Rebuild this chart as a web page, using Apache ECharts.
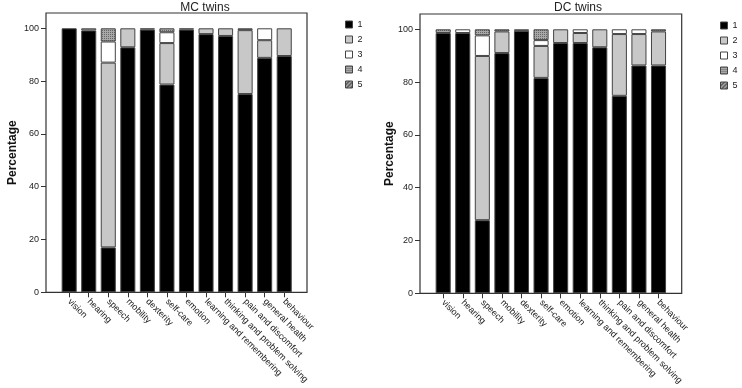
<!DOCTYPE html>
<html>
<head>
<meta charset="utf-8">
<script src="https://cdn.jsdelivr.net/npm/echarts@6/dist/echarts.min.js"></script>
<style>
  html, body { margin: 0; padding: 0; background: #fff; }
  #chart { width: 742px; height: 388px; }
</style>
</head>
<body>
<div id="chart"></div>
<script>
const categories = ["vision", "hearing", "speech", "mobility", "dexterity", "self-care", "emotion",
  "learning and remembering", "thinking and problem solving", "pain and discomfort", "general health", "behaviour"];
const levels = ["1", "2", "3", "4", "5"];

// MC twins, percentage per response level
const mc1 = [100, 99.2, 17, 92.8, 99.5, 78.7, 99.5, 97.8, 97.1, 75.1, 88.8, 89.5];
const mc2 = [0, 0.8, 70, 7.2, 0.5, 15.7, 0.5, 2.2, 2.9, 24.2, 6.7, 10.5];
const mc3 = [0, 0, 8, 0, 0, 4.1, 0, 0, 0, 0, 4.5, 0];
const mc4 = [0, 0, 5, 0, 0, 1.5, 0, 0, 0, 0.7, 0, 0];
const mc5 = [0, 0, 0, 0, 0, 0, 0, 0, 0, 0, 0, 0];

// DC twins
const dc1 = [98.6, 98.6, 27.7, 91, 99.4, 81.6, 94.8, 94.8, 93.2, 74.8, 86.3, 86.3];
const dc2 = [0, 0, 62.2, 8.2, 0.6, 12.1, 5.2, 3.8, 6.8, 23.4, 11.9, 12.9];
const dc3 = [0, 1.4, 7.8, 0, 0, 2.2, 0, 1.4, 0, 1.8, 1.8, 0];
const dc4 = [1.4, 0, 2.3, 0.8, 0, 4.1, 0, 0, 0, 0, 0, 0.8];
const dc5 = [0, 0, 0, 0, 0, 0, 0, 0, 0, 0, 0, 0];

const font = "Liberation Sans, Arial, sans-serif";

function pattern(kind) {
  const c = document.createElement("canvas");
  c.width = 4; c.height = 4;
  const ctx = c.getContext("2d");
  if (kind === "dots") {
    ctx.fillStyle = "#a8a8a8";
    ctx.fillRect(0, 0, 4, 4);
    ctx.fillStyle = "#666";
    ctx.fillRect(0, 0, 1, 1); ctx.fillRect(2, 2, 1, 1);
    ctx.fillRect(2, 0, 1, 1); ctx.fillRect(0, 2, 1, 1);
  } else {
    ctx.fillStyle = "#9a9a9a";
    ctx.fillRect(0, 0, 4, 4);
    ctx.fillStyle = "#333";
    for (let i = 0; i < 4; i++) ctx.fillRect(3 - i, i, 1, 1);
  }
  return { image: c, repeat: "repeat" };
}

const levelColors = ["#000", "#c8c8c8", "#fff", pattern("dots"), pattern("hatch")];

function makeSeries(sets, axis) {
  return sets.map((vals, i) => ({
    name: levels[i],
    type: "bar",
    stack: "s" + axis,
    xAxisIndex: axis,
    yAxisIndex: axis,
    barCategoryGap: "23%",
    data: vals.map(v => (v > 0 ? v : null)),
    itemStyle: { color: levelColors[i], borderColor: "#444", borderWidth: 1 },
    emphasis: { disabled: true },
  }));
}

function dataAxes(gridIndex) {
  return {
    x: {
      type: "category",
      gridIndex: gridIndex,
      data: categories,
      axisLine: { show: false },
      axisTick: { show: true, alignWithLabel: true, length: 5, lineStyle: { color: "#333" } },
      axisLabel: { rotate: -45, fontSize: 9, color: "#222", margin: 8, fontFamily: font, interval: 0 },
    },
    y: {
      type: "value",
      gridIndex: gridIndex,
      min: 0,
      max: 100,
      interval: 20,
      offset: 13.4,
      axisLine: { show: false },
      axisTick: { show: true, length: 5, lineStyle: { color: "#333" } },
      axisLabel: { fontSize: 9, color: "#222", margin: 7, fontFamily: font },
      splitLine: { show: false },
    },
  };
}

function frameAxes(gridIndex, gap) {
  return {
    x: { type: "value", gridIndex: gridIndex, show: false },
    y: {
      type: "value",
      gridIndex: gridIndex,
      name: "Percentage",
      nameLocation: "middle",
      nameGap: gap,
      nameTextStyle: { fontSize: 12, fontWeight: "bold", color: "#111", fontFamily: font },
      axisLine: { show: false },
      axisTick: { show: false },
      axisLabel: { show: false },
      splitLine: { show: false },
    },
  };
}

const leftData = dataAxes(0), leftFrame = frameAxes(1, 27);
const rightData = dataAxes(2), rightFrame = frameAxes(3, 24);

const legendBase = {
  orient: "vertical",
  padding: 0,
  itemWidth: 7,
  itemHeight: 7,
  itemGap: 6,
  icon: "rect",
  data: levels,
  selectedMode: false,
  itemStyle: { borderColor: "#444", borderWidth: 1 },
  textStyle: { fontSize: 9, color: "#222", fontFamily: font },
};

let chart = echarts.init(document.getElementById("chart"), null, { renderer: "canvas" });

let option = {
  animation: false,
  textStyle: { fontFamily: font },
  title: [
    { text: "MC twins", left: 200, top: -3, textAlign: "center",
      textStyle: { fontSize: 12, fontWeight: "normal", color: "#222", fontFamily: font } },
    { text: "DC twins", left: 573, top: -3, textAlign: "center",
      textStyle: { fontSize: 12, fontWeight: "normal", color: "#222", fontFamily: font } },
  ],
  legend: [
    Object.assign({ left: 345, top: 20 }, legendBase),
    Object.assign({ left: 720, top: 21 }, legendBase),
  ],
  grid: [
    { left: 59.4, top: 28.3, width: 234.6, height: 264, containLabel: false },
    { left: 46, top: 13, width: 261, height: 279.3, show: true, borderColor: "#333", borderWidth: 1.2, backgroundColor: "transparent" },
    { left: 433.4, top: 29.3, width: 234.9, height: 264, containLabel: false },
    { left: 420, top: 14, width: 261.7, height: 279.3, show: true, borderColor: "#333", borderWidth: 1.2, backgroundColor: "transparent" },
  ],
  xAxis: [leftData.x, leftFrame.x, rightData.x, rightFrame.x],
  yAxis: [leftData.y, leftFrame.y, rightData.y, rightFrame.y],
  series: [
    ...makeSeries([mc1, mc2, mc3, mc4, mc5], 0),
    ...makeSeries([dc1, dc2, dc3, dc4, dc5], 2),
  ],
};

option && chart.setOption(option);
</script>
</body>
</html>
